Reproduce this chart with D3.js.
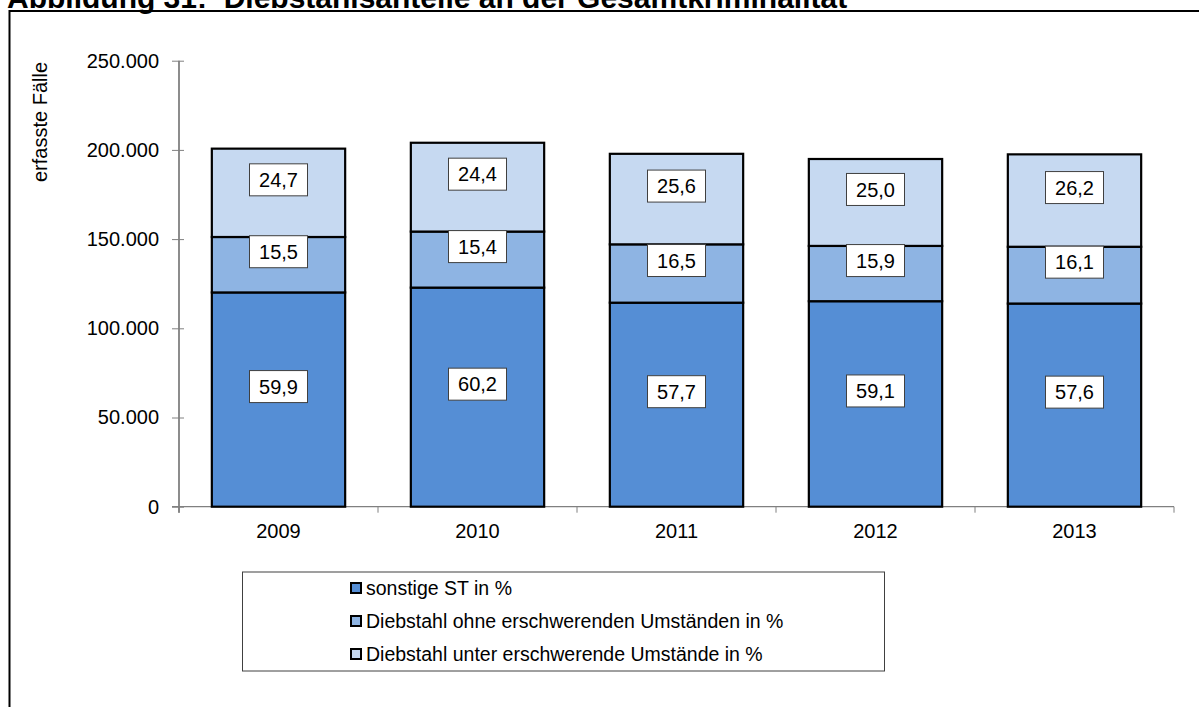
<!DOCTYPE html>
<html>
<head>
<meta charset="utf-8">
<script src="https://cdn.jsdelivr.net/npm/d3@7"></script>
<style>
  body { margin: 0; background: #fff; }
  svg { display: block; font-family: "Liberation Sans", Arial, sans-serif; }
</style>
</head>
<body>
<div id="chart"></div>
<script>
const years = ["2009", "2010", "2011", "2012", "2013"];
// erfasste Fälle insgesamt
const totals = [200500, 204000, 198200, 194900, 197700];
// Anteile in %
const sonstige = [59.9, 60.2, 57.7, 59.1, 57.6];
const ohneErschw = [15.5, 15.4, 16.5, 15.9, 16.1];
const unterErschw = [24.7, 24.4, 25.6, 25.0, 26.2];
const seriesNames = [
  "sonstige ST in %",
  "Diebstahl ohne erschwerenden Umständen in %",
  "Diebstahl unter erschwerende Umstände in %"
];
const yTicks = [0, 50000, 100000, 150000, 200000, 250000];

const farben = ["#558ed5", "#8eb4e3", "#c6d9f1"];

const de = d3.formatLocale({ decimal: ",", thousands: ".", grouping: [3], currency: ["", " €"] });
const fmtY = de.format(",.0f");
const fmtP = de.format(".1f");

const width = 1199;
const height = 707;

const svg = d3.select("#chart").append("svg")
  .attr("width", width)
  .attr("height", height);

svg.append("rect").attr("width", width).attr("height", height).attr("fill", "#fff");

// Titel (oben abgeschnitten, wie im Original)
svg.append("text")
  .attr("x", 7)
  .attr("y", 8)
  .attr("font-size", 30)
  .attr("font-weight", "bold")
  .style("white-space", "pre")
  .text("Abbildung 31:  Diebstahlsanteile an der Gesamtkriminalität");

// Rahmen
svg.append("rect")
  .attr("x", 9.5).attr("y", 11)
  .attr("width", 1400).attr("height", 900)
  .attr("fill", "none").attr("stroke", "#000").attr("stroke-width", 2);

const x = d3.scaleBand().domain(years).range([179, 1174]).paddingInner(0.33).paddingOuter(0.165);
const y = d3.scaleLinear().domain([0, 250000]).range([506.7, 60.7]);

const rows = years.map((yr, i) => ({
  year: yr,
  s0: totals[i] * sonstige[i] / 100,
  s1: totals[i] * ohneErschw[i] / 100,
  s2: totals[i] * unterErschw[i] / 100,
  p0: sonstige[i], p1: ohneErschw[i], p2: unterErschw[i]
}));

const stack = d3.stack().keys(["s0", "s1", "s2"]);
const series = stack(rows);

// Y-Achse
const yAxis = svg.append("g")
  .attr("transform", `translate(${x.range()[0]},0)`)
  .call(d3.axisLeft(y).tickValues(yTicks).tickFormat(fmtY).tickSize(7).tickPadding(13));
yAxis.select(".domain").attr("stroke", "#404040").attr("stroke-width", 1.2);
yAxis.selectAll(".tick line").attr("stroke", "#808080").attr("x2", 5).attr("x1", -7);
yAxis.selectAll(".tick text")
  .attr("font-size", 20)
  .attr("font-family", "Liberation Sans, Arial, sans-serif")
  .attr("fill", "#000");
yAxis.select(".domain").attr("d", `M0,${y(250000)}V${y(0) + 6}`);

// Achsentitel
svg.append("text")
  .attr("transform", "translate(47,122) rotate(-90)")
  .attr("text-anchor", "middle")
  .attr("font-size", 20)
  .text("erfasste Fälle");

// X-Achse
svg.append("line")
  .attr("x1", x.range()[0] - 7).attr("x2", x.range()[1])
  .attr("y1", y(0)).attr("y2", y(0))
  .attr("stroke", "#808080").attr("stroke-width", 1.2);
svg.append("g")
  .selectAll("line")
  .data(d3.range(years.length + 1))
  .join("line")
  .attr("x1", i => x.range()[0] + i * x.step())
  .attr("x2", i => x.range()[0] + i * x.step())
  .attr("y1", y(0)).attr("y2", y(0) + 6)
  .attr("stroke", "#808080");

const xAxis = svg.append("g")
  .attr("transform", `translate(0,${y(0)})`)
  .call(d3.axisBottom(x).tickSize(0).tickPadding(17));
xAxis.select(".domain").remove();
xAxis.selectAll(".tick text")
  .attr("font-size", 20)
  .attr("font-family", "Liberation Sans, Arial, sans-serif")
  .attr("fill", "#000");

// Balken
const layers = svg.append("g")
  .selectAll("g")
  .data(series)
  .join("g")
  .attr("fill", (d, i) => farben[i]);

layers.selectAll("rect")
  .data(d => d)
  .join("rect")
  .attr("x", d => x(d.data.year))
  .attr("width", x.bandwidth())
  .attr("y", d => y(d[1]))
  .attr("height", d => y(d[0]) - y(d[1]))
  .attr("stroke", "#000")
  .attr("stroke-width", 2.2);

// Datenbeschriftungen
const labels = svg.append("g");
series.forEach((s, si) => {
  s.forEach(d => {
    const cx = x(d.data.year) + x.bandwidth() / 2;
    const cy = (y(d[0]) + y(d[1])) / 2 - 13;
    const g = labels.append("g").attr("transform", `translate(${cx},${cy})`);
    g.append("rect")
      .attr("x", -29).attr("y", -16)
      .attr("width", 58).attr("height", 32)
      .attr("fill", "#fff").attr("stroke", "#404040").attr("stroke-width", 1);
    g.append("text")
      .attr("text-anchor", "middle")
      .attr("dy", "0.36em")
      .attr("font-size", 20)
      .text(fmtP(d.data["p" + si]));
  });
});

// Legende
const legend = svg.append("g");
legend.append("rect")
  .attr("x", 242.5).attr("y", 572)
  .attr("width", 642).attr("height", 99)
  .attr("fill", "#fff").attr("stroke", "#404040").attr("stroke-width", 1);

const items = legend.selectAll("g.item")
  .data(seriesNames)
  .join("g")
  .attr("class", "item")
  .attr("transform", (d, i) => `translate(351,${588 + i * 33})`);

items.append("rect")
  .attr("x", 0).attr("y", -5)
  .attr("width", 10).attr("height", 10)
  .attr("fill", (d, i) => farben[i])
  .attr("stroke", "#000").attr("stroke-width", 2);

items.append("text")
  .attr("x", 15)
  .attr("dy", "0.36em")
  .attr("font-size", 19.5)
  .text(d => d);
</script>
</body>
</html>
